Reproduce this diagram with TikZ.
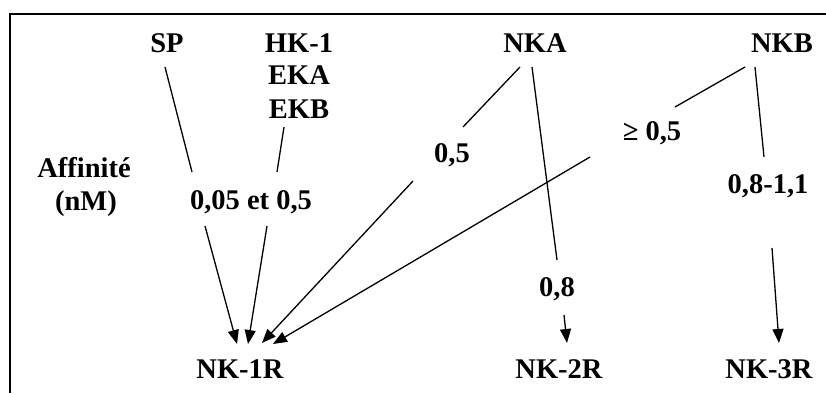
\documentclass[tikz,border=0pt]{standalone}
\usepackage{fontspec}
\setmainfont{Liberation Serif}
\usetikzlibrary{arrows.meta}
\begin{document}
\begin{tikzpicture}[x=1pt,y=-1pt,
  lbl/.style={font=\fontsize{28.5}{30}\selectfont\bfseries, inner sep=0pt, anchor=base},
  conn/.style={line width=1.3pt},
  arr/.style={line width=1.3pt, -{Triangle[length=14pt,width=11pt]}}]
\useasboundingbox (0,0) rectangle (826,393);
% frame
\draw[line width=1.3pt] (826,14) -- (10,14) -- (10,393);
% labels
\node[lbl] (SP) at (167,53) {SP};
\node[lbl] (HK) at (299,53) {HK-1};
\node[lbl] (EKA) at (299,85) {EKA};
\node[lbl] (EKB) at (299,118) {EKB};
\node[lbl] (NKA) at (535,53) {NKA};
\node[lbl] (NKB) at (782,53) {NKB};
\node[lbl] (aff) at (84,177) {Affinité};
\node[lbl] (nM) at (86,210) {(nM)};
\node[lbl] (v1) at (251,209) {0,05 et 0,5};
\node[lbl] (v2) at (452,162) {0,5};
\node[lbl] (v3) at (652,140) {≥ 0,5};
\node[lbl] (v4) at (768,193) {0,8-1,1};
\node[lbl] (v5) at (557,296) {0,8};
\node[lbl] (R1) at (240,378) {NK-1R};
\node[lbl] (R2) at (559,378) {NK-2R};
\node[lbl] (R3) at (769,378) {NK-3R};
% coordinates
\coordinate (sp0) at (165,67);   \coordinate (sp1) at (192,172);
\coordinate (hk0) at (284,127);  \coordinate (hk1) at (277,172);
\coordinate (a1s) at (205,226);  \coordinate (a1e) at (237,344);
\coordinate (a2s) at (267,226);  \coordinate (a2e) at (248,344);
\coordinate (na0) at (520,67);   \coordinate (na1) at (463,127);
\coordinate (a3s) at (413,181);  \coordinate (a3e) at (262,343);
\coordinate (nb0) at (745,67);   \coordinate (nb1) at (675,107);
\coordinate (a4s) at (590,157);  \coordinate (a4e) at (273,344);
\coordinate (nk0) at (532,67);   \coordinate (nk1) at (557,260);
\coordinate (a5s) at (564,315);  \coordinate (a5e) at (567,343);
\coordinate (nl0) at (755,67);   \coordinate (nl1) at (764,157);
\coordinate (a6s) at (772,248);  \coordinate (a6e) at (779,343);
% connectors
\draw[conn] (sp0) -- (sp1);
\draw[conn] (hk0) -- (hk1);
\draw[arr] (a1s) -- (a1e);
\draw[arr] (a2s) -- (a2e);
\draw[conn] (na0) -- (na1);
\draw[arr] (a3s) -- (a3e);
\draw[conn] (nb0) -- (nb1);
\draw[arr] (a4s) -- (a4e);
\draw[conn] (nk0) -- (nk1);
\draw[arr] (a5s) -- (a5e);
\draw[conn] (nl0) -- (nl1);
\draw[arr] (a6s) -- (a6e);
\end{tikzpicture}
\end{document}
